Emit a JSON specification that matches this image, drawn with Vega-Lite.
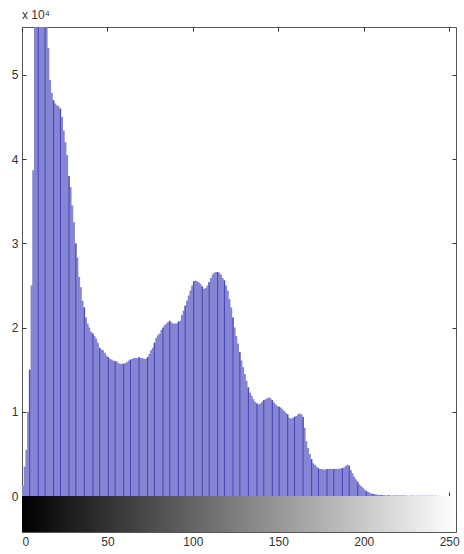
{
  "$schema": "https://vega.github.io/schema/vega-lite/v6.json",
  "padding": {"left": 10, "top": 8, "right": 0, "bottom": 0},
  "background": "white",
  "config": {
    "font": "Liberation Sans",
    "view": {"stroke": "#555555", "strokeWidth": 1},
    "axis": {"labelFont": "Liberation Sans", "labelFontSize": 12, "labelColor": "#333333", "tickColor": "#333333", "domain": false, "grid": false, "tickSize": -4, "title": null}
  },
  "datasets": {
    "hist": [
      {"bin":0,"count":1200},{"bin":1,"count":3500},{"bin":2,"count":5500},{"bin":3,"count":10000},{"bin":4,"count":15000},
      {"bin":5,"count":25000},{"bin":6,"count":38700},{"bin":7,"count":57500},{"bin":8,"count":60500},{"bin":9,"count":62500},
      {"bin":10,"count":63500},{"bin":11,"count":63000},{"bin":12,"count":61500},{"bin":13,"count":59500},{"bin":14,"count":57000},
      {"bin":15,"count":53200},{"bin":16,"count":49400},{"bin":17,"count":47900},{"bin":18,"count":47000},{"bin":19,"count":46600},
      {"bin":20,"count":46400},{"bin":21,"count":46300},{"bin":22,"count":46000},{"bin":23,"count":45000},{"bin":24,"count":43400},
      {"bin":25,"count":42000},{"bin":26,"count":40500},{"bin":27,"count":38000},{"bin":28,"count":36700},{"bin":29,"count":34500},
      {"bin":30,"count":32500},{"bin":31,"count":30000},{"bin":32,"count":28300},{"bin":33,"count":26000},{"bin":34,"count":24800},
      {"bin":35,"count":23200},{"bin":36,"count":22400},{"bin":37,"count":21200},{"bin":38,"count":20500},{"bin":39,"count":20000},
      {"bin":40,"count":19500},{"bin":41,"count":19300},{"bin":42,"count":19000},{"bin":43,"count":18700},{"bin":44,"count":18200},
      {"bin":45,"count":17600},{"bin":46,"count":17400},{"bin":47,"count":17300},{"bin":48,"count":17000},{"bin":49,"count":16700},
      {"bin":50,"count":16500},{"bin":51,"count":16300},{"bin":52,"count":16200},{"bin":53,"count":16100},{"bin":54,"count":16000},
      {"bin":55,"count":16000},{"bin":56,"count":15800},{"bin":57,"count":15700},{"bin":58,"count":15700},{"bin":59,"count":15700},
      {"bin":60,"count":15800},{"bin":61,"count":15900},{"bin":62,"count":16100},{"bin":63,"count":16200},{"bin":64,"count":16300},
      {"bin":65,"count":16400},{"bin":66,"count":16400},{"bin":67,"count":16400},{"bin":68,"count":16500},{"bin":69,"count":16400},
      {"bin":70,"count":16400},{"bin":71,"count":16300},{"bin":72,"count":16300},{"bin":73,"count":16500},{"bin":74,"count":16900},
      {"bin":75,"count":17300},{"bin":76,"count":17600},{"bin":77,"count":18200},{"bin":78,"count":18800},{"bin":79,"count":19100},
      {"bin":80,"count":19300},{"bin":81,"count":19700},{"bin":82,"count":20000},{"bin":83,"count":20300},{"bin":84,"count":20500},
      {"bin":85,"count":20700},{"bin":86,"count":20800},{"bin":87,"count":20600},{"bin":88,"count":20500},{"bin":89,"count":20500},
      {"bin":90,"count":20500},{"bin":91,"count":20700},{"bin":92,"count":20800},{"bin":93,"count":21500},{"bin":94,"count":22000},
      {"bin":95,"count":22600},{"bin":96,"count":23200},{"bin":97,"count":23800},{"bin":98,"count":24400},{"bin":99,"count":25000},
      {"bin":100,"count":25500},{"bin":101,"count":25600},{"bin":102,"count":25500},{"bin":103,"count":25400},{"bin":104,"count":25200},
      {"bin":105,"count":24900},{"bin":106,"count":24600},{"bin":107,"count":24700},{"bin":108,"count":25000},{"bin":109,"count":25400},
      {"bin":110,"count":25900},{"bin":111,"count":26300},{"bin":112,"count":26500},{"bin":113,"count":26600},{"bin":114,"count":26600},
      {"bin":115,"count":26500},{"bin":116,"count":26300},{"bin":117,"count":25900},{"bin":118,"count":25600},{"bin":119,"count":25000},
      {"bin":120,"count":24400},{"bin":121,"count":23400},{"bin":122,"count":22400},{"bin":123,"count":21200},{"bin":124,"count":20000},
      {"bin":125,"count":19000},{"bin":126,"count":18100},{"bin":127,"count":17100},{"bin":128,"count":16100},{"bin":129,"count":15300},
      {"bin":130,"count":14500},{"bin":131,"count":13700},{"bin":132,"count":12900},{"bin":133,"count":12300},{"bin":134,"count":11900},
      {"bin":135,"count":11500},{"bin":136,"count":11200},{"bin":137,"count":11000},{"bin":138,"count":10900},{"bin":139,"count":11000},
      {"bin":140,"count":11200},{"bin":141,"count":11400},{"bin":142,"count":11500},{"bin":143,"count":11600},{"bin":144,"count":11700},
      {"bin":145,"count":11600},{"bin":146,"count":11400},{"bin":147,"count":11100},{"bin":148,"count":10900},{"bin":149,"count":10700},
      {"bin":150,"count":10600},{"bin":151,"count":10500},{"bin":152,"count":10300},{"bin":153,"count":10100},{"bin":154,"count":9900},
      {"bin":155,"count":9700},{"bin":156,"count":9300},{"bin":157,"count":9200},{"bin":158,"count":9300},{"bin":159,"count":9400},
      {"bin":160,"count":9500},{"bin":161,"count":9700},{"bin":162,"count":9800},{"bin":163,"count":9700},{"bin":164,"count":9400},
      {"bin":165,"count":8100},{"bin":166,"count":6500},{"bin":167,"count":5700},{"bin":168,"count":5000},{"bin":169,"count":4400},
      {"bin":170,"count":3900},{"bin":171,"count":3700},{"bin":172,"count":3500},{"bin":173,"count":3300},{"bin":174,"count":3200},
      {"bin":175,"count":3200},{"bin":176,"count":3150},{"bin":177,"count":3150},{"bin":178,"count":3200},{"bin":179,"count":3200},
      {"bin":180,"count":3250},{"bin":181,"count":3200},{"bin":182,"count":3200},{"bin":183,"count":3250},{"bin":184,"count":3200},
      {"bin":185,"count":3250},{"bin":186,"count":3300},{"bin":187,"count":3300},{"bin":188,"count":3400},{"bin":189,"count":3600},
      {"bin":190,"count":3700},{"bin":191,"count":3600},{"bin":192,"count":3100},{"bin":193,"count":2700},{"bin":194,"count":2300},
      {"bin":195,"count":2000},{"bin":196,"count":1700},{"bin":197,"count":1400},{"bin":198,"count":1200},{"bin":199,"count":1000},
      {"bin":200,"count":800},{"bin":201,"count":600},{"bin":202,"count":500},{"bin":203,"count":400},{"bin":204,"count":300},
      {"bin":205,"count":250},{"bin":206,"count":200},{"bin":207,"count":180},{"bin":208,"count":150},{"bin":209,"count":130},
      {"bin":210,"count":120},{"bin":211,"count":90},{"bin":212,"count":80},{"bin":213,"count":70},{"bin":214,"count":80},
      {"bin":215,"count":70},{"bin":216,"count":60},{"bin":217,"count":60},{"bin":218,"count":60},{"bin":219,"count":50},
      {"bin":220,"count":60},{"bin":221,"count":50},{"bin":222,"count":50},{"bin":223,"count":40},{"bin":224,"count":50},
      {"bin":225,"count":40},{"bin":226,"count":40},{"bin":227,"count":40},{"bin":228,"count":30},{"bin":229,"count":40},
      {"bin":230,"count":30},{"bin":231,"count":30},{"bin":232,"count":30},{"bin":233,"count":30},{"bin":234,"count":20},
      {"bin":235,"count":30},{"bin":236,"count":20},{"bin":237,"count":20},{"bin":238,"count":20},{"bin":239,"count":20},
      {"bin":240,"count":20},{"bin":241,"count":20},{"bin":242,"count":20},{"bin":243,"count":10},{"bin":244,"count":20},
      {"bin":245,"count":10},{"bin":246,"count":10},{"bin":247,"count":10},{"bin":248,"count":10},{"bin":249,"count":10},
      {"bin":250,"count":10},{"bin":251,"count":10},{"bin":252,"count":10},{"bin":253,"count":10},{"bin":254,"count":10},
      {"bin":255,"count":0}
    ]
  },
  "spacing": 0,
  "bounds": "flush",
  "vconcat": [
    {
      "width": 434,
      "height": 469,
      "title": {"text": "x 10⁴", "anchor": "start", "frame": "group", "fontSize": 12, "fontWeight": "normal", "color": "#333333", "offset": 5, "font": "Liberation Sans"},
      "data": {"name": "hist"},
      "layer": [
        {
          "mark": {"type": "area", "color": "#8585d3", "opacity": 1, "interpolate": "step-after", "clip": true},
          "encoding": {
            "x": {"field": "bin", "type": "quantitative", "scale": {"domain": [0, 254], "nice": false, "zero": false}, "axis": {"orient": "bottom", "labels": false, "values": [0, 50, 100, 150, 200, 250]}},
            "y": {"field": "count", "type": "quantitative", "scale": {"domain": [0, 55700], "nice": false}, "axis": {"orient": "left", "values": [0, 10000, 20000, 30000, 40000, 50000], "labelExpr": "datum.value / 10000", "labelPadding": 8}},
            "y2": {"datum": 0}
          }
        },
        {
          "transform": [
            {"filter": "floor(datum.bin / 4.57) != floor((datum.bin + 1) / 4.57)"},
            {"calculate": "datum.bin + 0.5", "as": "mid"}
          ],
          "mark": {"type": "rule", "color": "#4444b8", "clip": true, "strokeWidth": 1},
          "encoding": {
            "x": {"field": "mid", "type": "quantitative", "axis": {"orient": "top", "labels": false, "values": [0, 50, 100, 150, 200, 250]}},
            "y": {"field": "count", "type": "quantitative", "axis": {"orient": "right", "labels": false, "values": [0, 10000, 20000, 30000, 40000, 50000]}},
            "y2": {"datum": 0}
          }
        }
      ],
      "resolve": {"axis": {"x": "independent", "y": "independent"}}
    },
    {
      "width": 434,
      "height": 36,
      "data": {"values": [{}]},
      "layer": [
        {
          "mark": {"type": "rect", "color": {"gradient": "linear", "x1": 0, "x2": 1, "y1": 0, "y2": 0, "stops": [{"offset": 0, "color": "#000000"}, {"offset": 1, "color": "#ffffff"}]}},
          "encoding": {
            "x": {"datum": 0, "type": "quantitative", "scale": {"domain": [0, 254], "nice": false, "zero": false}, "axis": {"orient": "bottom", "values": [0, 50, 100, 150, 200, 250], "labelPadding": 8}},
            "x2": {"datum": 254},
            "y": {"datum": 0, "type": "quantitative", "scale": {"domain": [0, 1], "nice": false}, "axis": {"orient": "right", "labels": false, "values": [0.5]}},
            "y2": {"datum": 1}
          }
        },
        {
          "mark": {"type": "rule", "opacity": 0},
          "encoding": {
            "x": {"datum": 0, "type": "quantitative", "axis": {"orient": "top", "labels": false, "values": [0, 50, 100, 150, 200, 250]}}
          }
        }
      ],
      "resolve": {"axis": {"x": "independent"}}
    }
  ]
}
